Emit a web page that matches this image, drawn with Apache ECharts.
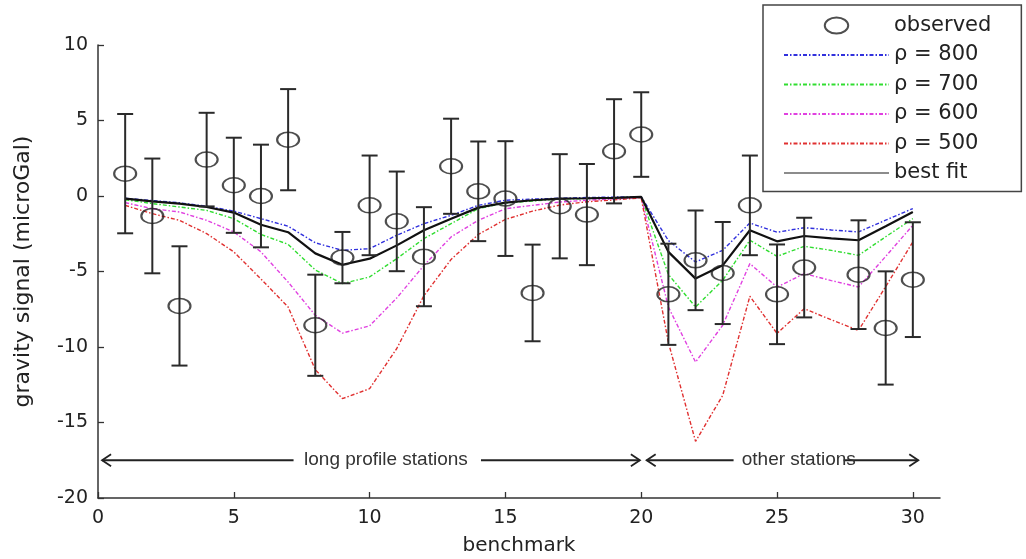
<!DOCTYPE html>
<html>
<head>
<meta charset="utf-8">
<script src="https://cdn.jsdelivr.net/npm/echarts@6/dist/echarts.min.js"></script>
<style>
html,body{margin:0;padding:0;background:#fff;}
#chart{width:1026px;height:559px;}
</style>
</head>
<body>
<div id="chart"></div>
<script>
// ---- data ----
const benchmark = [1,2,3,4,5,6,7,8,9,10,11,12,13,14,15,16,17,18,19,20,21,22,23,24,25,26,27,28,29,30];
const rho800 = [-0.15,-0.3,-0.45,-0.68,-1.0,-1.5,-2.0,-3.1,-3.6,-3.49,-2.6,-1.83,-1.28,-0.62,-0.28,-0.2,-0.15,-0.1,-0.07,-0.05,-2.95,-4.37,-3.6,-1.79,-2.4,-2.1,-2.25,-2.38,-1.6,-0.83];
const rho700 = [-0.25,-0.5,-0.73,-0.95,-1.5,-2.55,-3.2,-4.9,-5.8,-5.36,-4.15,-2.82,-1.83,-0.84,-0.46,-0.33,-0.2,-0.17,-0.12,-0.07,-5.2,-7.35,-5.58,-2.93,-4.0,-3.33,-3.6,-3.93,-2.7,-1.5];
const rho600 = [-0.44,-0.84,-1.06,-1.61,-2.38,-3.7,-5.7,-7.9,-9.08,-8.6,-6.75,-4.6,-2.71,-1.61,-0.84,-0.62,-0.4,-0.28,-0.2,-0.1,-7.35,-11.0,-8.56,-4.48,-6.03,-5.14,-5.6,-6.03,-4.0,-1.94];
const rho500 = [-0.62,-1.17,-1.61,-2.49,-3.7,-5.5,-7.35,-11.5,-13.42,-12.76,-10.1,-6.6,-4.2,-2.55,-1.55,-1.0,-0.6,-0.38,-0.26,-0.12,-9.7,-16.25,-13.2,-6.64,-9.1,-7.46,-8.2,-8.9,-6.0,-3.04];
const bestFit = [-0.17,-0.35,-0.5,-0.73,-1.1,-1.9,-2.4,-3.8,-4.55,-4.15,-3.27,-2.27,-1.5,-0.77,-0.44,-0.28,-0.17,-0.15,-0.12,-0.06,-3.7,-5.47,-4.59,-2.27,-3.0,-2.65,-2.8,-2.93,-2.0,-1.06];

const obsX = [1,2,3,4,5,6,7,8,9,10,11,12,13,14,15,16,17,18,19,20,21,22,23,24,25,26,28,29,30];
const obsY = [1.48,-1.32,-7.28,2.41,0.71,0.0,3.73,-8.56,-4.08,-0.62,-1.68,-4.02,1.97,0.31,-0.17,-6.42,-0.68,-1.23,2.96,4.07,-6.51,-4.26,-5.1,-0.62,-6.51,-4.74,-5.21,-8.74,-5.54];
const obsErr = [3.95,3.8,3.95,3.1,3.15,3.4,3.35,3.35,1.7,3.3,3.3,3.28,3.15,3.3,3.8,3.2,3.45,3.35,3.45,2.8,3.35,3.3,3.38,3.3,3.3,3.3,3.6,3.75,3.8];

const xTicks = [0,5,10,15,20,25,30];
const yTicks = [-20,-15,-10,-5,0,5,10];

// annotation arrows: [start, end, head side]
const arrowLevel = -17.5;
const arrowSegs = [[0.15,7.2,'start'],[14.1,19.95,'end'],[20.2,23.4,'start'],[27.45,30.2,'end']];
const arrowLabels = [[10.6,'long profile stations'],[25.8,'other stations']];

// ---- build ----
const pairs = (xs, ys) => xs.map((x,i) => [x, ys[i]]);
const errData = obsX.map((x,i) => [x, obsY[i]-obsErr[i], obsY[i]+obsErr[i]]);
const ellipse = 'path://M0,7.5 A11,7.5 0 1 1 22,7.5 A11,7.5 0 1 1 0,7.5 Z';
const dash = [4,2,1.5,2];
const FONT = 'DejaVu Sans';
const hiddenSymbol = {color: 'rgba(0,0,0,0)', borderColor: 'rgba(0,0,0,0)', borderWidth: 0};

function lineSeries(name, data, color, solid) {
  return {
    name: name, type: 'line', data: pairs(benchmark, data),
    symbol: 'none', showSymbol: false, z: solid ? 4 : 3,
    lineStyle: solid ? {color: color, width: 2.2, type: 'solid'} : {color: color, width: 1.4, type: dash},
    itemStyle: {color: color},
    animation: false
  };
}

const chart = echarts.init(document.getElementById('chart'), null, {renderer: 'canvas'});
const option = {
  backgroundColor: '#fff',
  animation: false,
  grid: {left: 98, right: 86, top: 45, bottom: 61, containLabel: false, outerBoundsMode: 'none'},
  xAxis: {
    type: 'value', min: 0, max: 31, interval: 5,
    name: 'benchmark', nameLocation: 'middle', nameGap: 38,
    nameTextStyle: {fontFamily: FONT, fontSize: 20, color: '#222'},
    axisLine: {show: true, onZero: false, lineStyle: {color: '#333', width: 1.5}},
    axisTick: {show: true, inside: true, length: 6, lineStyle: {color: '#333', width: 1.3}, customValues: xTicks},
    axisLabel: {fontFamily: FONT, fontSize: 19, color: '#222', margin: 11, customValues: xTicks},
    splitLine: {show: false}
  },
  yAxis: {
    type: 'value', min: -20, max: 10, interval: 5,
    name: 'gravity signal (microGal)', nameLocation: 'middle', nameGap: 64, nameRotate: 90,
    nameTextStyle: {fontFamily: FONT, fontSize: 22, color: '#222'},
    axisLine: {show: true, onZero: false, lineStyle: {color: '#333', width: 1.5}},
    axisTick: {show: true, inside: true, length: 6, lineStyle: {color: '#333', width: 1.3}, customValues: yTicks},
    axisLabel: {fontFamily: FONT, fontSize: 19, color: '#222', margin: 10, customValues: yTicks},
    splitLine: {show: false}
  },
  legend: {
    orient: 'vertical', left: 763, top: 5,
    padding: [10, 30, 8, 20],
    itemWidth: 105, itemHeight: 16, itemGap: 8.5,
    backgroundColor: '#fff', borderColor: '#444', borderWidth: 1.5,
    textStyle: {fontFamily: FONT, fontSize: 21, color: '#222'},
    z: 10,
    data: [
      {name: 'observed'},
      {name: 'ρ = 800', itemStyle: hiddenSymbol},
      {name: 'ρ = 700', itemStyle: hiddenSymbol},
      {name: 'ρ = 600', itemStyle: hiddenSymbol},
      {name: 'ρ = 500', itemStyle: hiddenSymbol},
      {name: 'best fit', itemStyle: hiddenSymbol, lineStyle: {color: '#666', width: 1.6}}
    ]
  },
  series: [
    lineSeries('ρ = 800', rho800, '#3030dd', false),
    lineSeries('ρ = 700', rho700, '#30dd30', false),
    lineSeries('ρ = 600', rho600, '#e040e0', false),
    lineSeries('ρ = 500', rho500, '#e03030', false),
    lineSeries('best fit', bestFit, '#111', true),
    {
      name: 'errorbars', type: 'custom', data: errData, z: 5, silent: true,
      renderItem: function (params, api) {
        const x = api.value(0);
        const lo = api.coord([x, api.value(1)]);
        const hi = api.coord([x, api.value(2)]);
        const cap = 8;
        const st = {stroke: '#2a2a2a', lineWidth: 2};
        return {type: 'group', children: [
          {type: 'line', shape: {x1: lo[0], y1: lo[1], x2: hi[0], y2: hi[1]}, style: st},
          {type: 'line', shape: {x1: lo[0]-cap, y1: lo[1], x2: lo[0]+cap, y2: lo[1]}, style: st},
          {type: 'line', shape: {x1: hi[0]-cap, y1: hi[1], x2: hi[0]+cap, y2: hi[1]}, style: st}
        ]};
      }
    },
    {
      name: 'observed', type: 'scatter', data: pairs(obsX, obsY), z: 6,
      symbol: ellipse, symbolSize: [22, 15], symbolKeepAspect: false,
      itemStyle: {color: 'rgba(255,255,255,0)', borderColor: '#222', borderWidth: 1.8}
    },
    {
      name: 'arrows', type: 'custom', data: arrowSegs.map(s => [s[0], s[1], s[2] === 'start' ? 0 : 1]), z: 5, silent: true,
      renderItem: function (params, api) {
        const a = api.coord([api.value(0), arrowLevel]);
        const b = api.coord([api.value(1), arrowLevel]);
        const st = {stroke: '#222', lineWidth: 1.8, fill: 'none'};
        const tip = api.value(2) === 0 ? a : b;
        const dir = api.value(2) === 0 ? 1 : -1;
        return {type: 'group', children: [
          {type: 'line', shape: {x1: a[0], y1: a[1], x2: b[0], y2: b[1]}, style: st},
          {type: 'polyline', shape: {points: [[tip[0]+dir*9, tip[1]-6], tip, [tip[0]+dir*9, tip[1]+6]]}, style: st}
        ]};
      }
    },
    {
      name: 'arrowText', type: 'custom', data: arrowLabels.map(l => [l[0], arrowLevel]), z: 5, silent: true,
      renderItem: function (params, api) {
        const p = api.coord([api.value(0), api.value(1)]);
        return {type: 'text', x: p[0], y: p[1], style: {
          text: arrowLabels[params.dataIndex][1], align: 'center', verticalAlign: 'middle',
          font: '19px "Liberation Sans", sans-serif', fill: '#333'
        }};
      }
    }
  ]
};
chart.setOption(option);
</script>
</body>
</html>
